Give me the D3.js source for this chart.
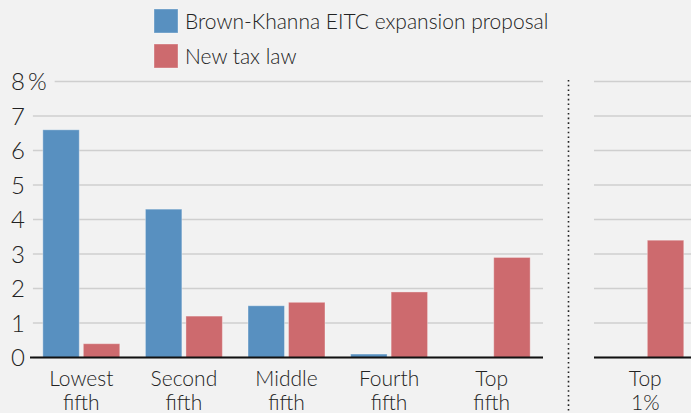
<!DOCTYPE html>
<html>
<head>
<meta charset="utf-8">
<script src="https://cdn.jsdelivr.net/npm/d3@7"></script>
<style>
	body { margin: 0; background: #f2f2f2; }
	svg { display: block; font-family: Lato, "Liberation Sans", sans-serif; font-weight: 300; }
	text { fill: #222; }
</style>
</head>
<body>
<script>
	// chart data
	var categories = ["Lowest\nfifth", "Second\nfifth", "Middle\nfifth", "Fourth\nfifth", "Top\nfifth", "Top\n1%"];
	var panels = ["quintiles", "quintiles", "quintiles", "quintiles", "quintiles", "top1"];
	var brownKhanna = [6.6, 4.3, 1.5, 0.1, 0, 0];
	var newTaxLaw = [0.4, 1.2, 1.6, 1.9, 2.9, 3.4];
	var seriesNames = ["Brown-Khanna EITC expansion proposal", "New tax law"];
	var seriesColors = ["#5890c0", "#cd6a6e"];
	var yTicks = [0, 1, 2, 3, 4, 5, 6, 7, 8];

	// basic variables
	var width = 691,
		height = 413,
		baseY = 357.5,
		topY = 81.5;

	var data = categories.map(function(c, i) {
		return { name: c, panel: panels[i], values: [brownKhanna[i], newTaxLaw[i]] };
	});

	var svg = d3.select("body")
		.append("svg")
			.attr("width", width)
			.attr("height", height);

	// scales
	var y = d3.scaleLinear()
		.domain([0, 8])
		.range([baseY, topY]);

	var panelRanges = {
		quintiles: [30, 543],
		top1: [594, 696.6]
	};

	var xPanel = {};
	Object.keys(panelRanges).forEach(function(p) {
		xPanel[p] = d3.scaleBand()
			.domain(data.filter(function(d) { return d.panel === p; }).map(function(d) { return d.name; }))
			.range(panelRanges[p])
			.paddingInner(0.25)
			.paddingOuter(0.125);
	});

	var x1 = d3.scaleBand()
		.domain([0, 1])
		.range([0, xPanel.quintiles.bandwidth()])
		.paddingInner(0.1);

	// y tick labels
	var tickLabels = svg.append("g")
		.attr("class", "y axis")
		.selectAll("text")
		.data(yTicks)
		.enter()
		.append("text")
			.attr("x", 11)
			.attr("y", function(d) { return y(d); })
			.attr("dy", "0.36em")
			.style("font-size", "24px")
			.text(function(d) { return d === 8 ? "8\u2009%" : d; });

	// gridlines, starting after each label
	var grid = svg.append("g").attr("class", "grid");
	tickLabels.each(function(d) {
		var box = this.getBBox();
		Object.keys(panelRanges).forEach(function(p) {
			var r = panelRanges[p];
			grid.append("line")
				.attr("x1", p === "quintiles" ? Math.max(30, box.x + box.width + 8) : r[0])
				.attr("x2", r[1])
				.attr("y1", y(d))
				.attr("y2", y(d))
				.attr("stroke", "#cfcfcf")
				.attr("stroke-width", 1.5);
		});
	});

	// bars
	var groups = svg.selectAll("g.group")
		.data(data)
		.enter()
		.append("g")
			.attr("class", "group")
			.attr("transform", function(d) {
				return "translate(" + xPanel[d.panel](d.name) + ",0)";
			});

	groups.selectAll("rect")
		.data(function(d) { return d.values.map(function(v, i) { return { v: v, i: i }; }); })
		.enter()
		.filter(function(d) { return d.v > 0; })
		.append("rect")
			.attr("x", function(d) { return x1(d.i); })
			.attr("y", function(d) { return y(d.v); })
			.attr("width", x1.bandwidth())
			.attr("height", function(d) { return baseY - y(d.v); })
			.attr("fill", function(d) { return seriesColors[d.i]; })
			.attr("stroke", "rgba(255,255,255,0.35)")
			.attr("stroke-width", 1);

	// baselines
	Object.keys(panelRanges).forEach(function(p) {
		var r = panelRanges[p];
		svg.append("line")
			.attr("x1", r[0])
			.attr("x2", r[1])
			.attr("y1", y(0))
			.attr("y2", y(0))
			.attr("stroke", "#111")
			.attr("stroke-width", 2);
	});

	// dotted separator
	svg.append("line")
		.attr("x1", 568.5)
		.attr("x2", 568.5)
		.attr("y1", 80)
		.attr("y2", height)
		.attr("stroke", "#222")
		.attr("stroke-width", 1.6)
		.attr("stroke-dasharray", "1.6,3.1");

	// category labels
	groups.append("text")
		.attr("text-anchor", "middle")
		.attr("x", xPanel.quintiles.bandwidth() / 2)
		.attr("y", 386)
		.style("font-size", "21px")
		.selectAll("tspan")
		.data(function(d) { return d.name.split("\n"); })
		.enter()
		.append("tspan")
			.attr("x", xPanel.quintiles.bandwidth() / 2)
			.attr("dy", function(d, i) { return i ? 24 : 0; })
			.text(function(d) { return d; });

	// legend
	var legend = svg.append("g")
		.attr("class", "legend")
		.selectAll("g")
		.data(seriesNames)
		.enter()
		.append("g")
			.attr("transform", function(d, i) { return "translate(154," + (9 + i * 35) + ")"; });

	legend.append("rect")
		.attr("width", 24)
		.attr("height", 24)
		.attr("fill", function(d, i) { return seriesColors[i]; })
		.attr("stroke", "rgba(255,255,255,0.35)");

	legend.append("text")
		.attr("x", 31)
		.attr("y", 20)
		.style("font-size", "21px")
		.text(function(d) { return d; });
</script>
</body>
</html>
